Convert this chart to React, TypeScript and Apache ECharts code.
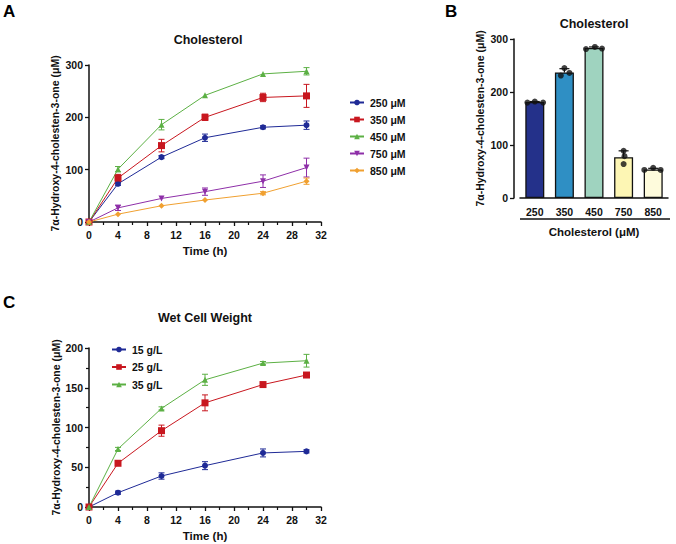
import { useEffect, useRef } from 'react'
import * as echarts from 'echarts'

const times = [0, 4, 10, 16, 24, 30]

// panel A: cholesterol concentration series (mean, sd)
const cholLabels = ['250 μM', '350 μM', '450 μM', '750 μM', '850 μM']
const chol250 = [0, 73, 124, 161, 181, 185]
const chol250Sd = [0, 3, 3, 7, 3, 8]
const chol350 = [0, 84, 146, 200, 238, 241]
const chol350Sd = [0, 7, 12, 6, 8, 22]
const chol450 = [0, 101, 186, 242, 283, 288]
const chol450Sd = [0, 5, 10, 2, 2, 7]
const chol750 = [0, 27, 45, 58, 78, 104]
const chol750Sd = [0, 5, 2, 7, 12, 18]
const chol850 = [0, 15, 31, 42, 55, 78]
const chol850Sd = [0, 2, 2, 2, 3, 6]

// panel B: 30 h yield per cholesterol level
const barCats = ['250', '350', '450', '750', '850']
const barMeans = [181, 237, 283, 77, 54]
const barSd = [1, 7, 2, 12, 2]
const barReps = [
  [180, 182, 180],
  [231, 245, 236],
  [281, 285, 282],
  [64, 89, 79],
  [53, 57, 53],
]
const repJitter = [
  [-0.25, 0, 0.28],
  [-0.12, 0, 0.17],
  [-0.27, 0.03, 0.27],
  [0, 0, 0.03],
  [-0.3, 0, 0.25],
]
const barColors = ['#24318a', '#2f8fc4', '#9fd3bf', '#fdf6b4', '#fefbdc']

// panel C: wet cell weight series
const wcwLabels = ['15 g/L', '25 g/L', '35 g/L']
const wcw15 = [0, 18, 39, 52, 68, 70]
const wcw15Sd = [0, 2, 4, 5, 5, 2]
const wcw25 = [0, 55, 96, 131, 154, 166]
const wcw25Sd = [0, 2, 7, 10, 2, 2]
const wcw35 = [0, 73, 124, 160, 181, 184]
const wcw35Sd = [0, 2, 2, 7, 2, 8]

const BLUE = '#1f2a96'
const RED = '#c8171f'
const GREEN = '#5cb044'
const PURPLE = '#8e2fa8'
const ORANGE = '#f0a030'

const FONT = '"Liberation Sans", Arial, sans-serif'
const yName = '7α-Hydroxy-4-cholesten-3-one (μM)'

function errorBars(grid: number, vals: number[], sd: number[], color: string) {
  return {
    type: 'custom',
    xAxisIndex: grid,
    yAxisIndex: grid,
    silent: true,
    z: 1,
    encode: { x: 0, y: [1, 2] },
    data: times.map((t, i) => [t, vals[i] - sd[i], vals[i] + sd[i]]),
    renderItem: (_p: any, api: any) => {
      const top = api.coord([api.value(0), api.value(2)])
      const bot = api.coord([api.value(0), api.value(1)])
      if (Math.abs(top[1] - bot[1]) < 3) return null
      const st = { stroke: color, lineWidth: 1 }
      return {
        type: 'group',
        children: [
          { type: 'line', shape: { x1: top[0], y1: top[1], x2: bot[0], y2: bot[1] }, style: st },
          { type: 'line', shape: { x1: top[0] - 3, y1: top[1], x2: top[0] + 3, y2: top[1] }, style: st },
          { type: 'line', shape: { x1: bot[0] - 3, y1: bot[1], x2: bot[0] + 3, y2: bot[1] }, style: st },
        ],
      }
    },
  }
}

function lineSeries(name: string, grid: number, vals: number[], color: string, symbol: string, size: number, rotate = 0) {
  return {
    name,
    type: 'line',
    xAxisIndex: grid,
    yAxisIndex: grid,
    data: times.map((t, i) => [t, vals[i]]),
    symbol,
    symbolSize: size,
    symbolRotate: rotate,
    z: 3,
    itemStyle: { color },
    lineStyle: { color, width: 1 },
  }
}

const axisLine = { show: true, onZero: false, lineStyle: { color: '#111', width: 1.5 } }
const labelStyle = { color: '#111', fontWeight: 'bold', fontSize: 10.5, fontFamily: FONT }

function timeAxis(grid: number) {
  return {
    type: 'value',
    gridIndex: grid,
    min: 0,
    max: 32,
    interval: 4,
    name: 'Time (h)',
    nameLocation: 'middle',
    nameGap: 23,
    nameTextStyle: { color: '#111', fontWeight: 'bold', fontSize: 11.5, fontFamily: FONT },
    axisLine,
    axisTick: { show: true, length: 4, lineStyle: { color: '#111', width: 1.3 } },
    minorTick: { show: true, splitNumber: 2, length: 3, lineStyle: { color: '#111', width: 1.2 } },
    axisLabel: { ...labelStyle, margin: 7 },
    splitLine: { show: false },
  }
}

function valueAxis(grid: number, max: number, interval: number, minor: boolean, gap: number, offset = 0) {
  return {
    type: 'value',
    gridIndex: grid,
    min: 0,
    max,
    interval,
    offset,
    name: yName,
    nameLocation: 'middle',
    nameGap: gap,
    nameTextStyle: { color: '#111', fontWeight: 'bold', fontSize: 10.5, fontFamily: FONT },
    axisLine,
    axisTick: { show: true, length: 4, lineStyle: { color: '#111', width: 1.3 } },
    minorTick: { show: minor, splitNumber: 2, length: 3, lineStyle: { color: '#111', width: 1.2 } },
    axisLabel: { ...labelStyle, margin: 6 },
    splitLine: { show: false },
  }
}

const legendText = { color: '#111', fontWeight: 'bold', fontSize: 10.5, fontFamily: FONT, padding: [0, 0, 0, 1] }

export default function App() {
  const ref = useRef<HTMLDivElement | null>(null)

  useEffect(() => {
    if (!ref.current) return undefined
    const chart = echarts.init(ref.current, undefined, { renderer: 'svg' })

    chart.setOption({
      animation: false,
      backgroundColor: '#fff',
      textStyle: { fontFamily: FONT },
      grid: [
        { left: 89, top: 65, width: 232, height: 157 },
        { left: 520, top: 39, width: 148, height: 159 },
        { left: 89, top: 348, width: 232, height: 159 },
      ],
      xAxis: [
        timeAxis(0),
        {
          type: 'category',
          gridIndex: 1,
          data: barCats,
          name: 'Cholesterol (μM)',
          nameLocation: 'middle',
          nameGap: 28,
          nameTextStyle: { color: '#111', fontWeight: 'bold', fontSize: 11.5, fontFamily: FONT },
          axisLine,
          axisTick: { show: false },
          axisLabel: { ...labelStyle, margin: 8 },
        },
        timeAxis(2),
        {
          type: 'value',
          gridIndex: 1,
          min: -0.5,
          max: 4.5,
          show: false,
        },
      ],
      yAxis: [
        valueAxis(0, 300, 100, false, 29),
        valueAxis(1, 300, 100, false, 29, 6),
        valueAxis(2, 200, 50, true, 26),
      ],
      legend: [
        {
          data: cholLabels,
          orient: 'vertical',
          left: 344,
          top: 92,
          itemWidth: 14,
          itemHeight: 7,
          itemGap: 6,
          selectedMode: false,
          textStyle: legendText,
        },
        {
          data: wcwLabels,
          orient: 'vertical',
          left: 106,
          top: 339,
          itemWidth: 14,
          itemHeight: 7,
          itemGap: 6.5,
          selectedMode: false,
          textStyle: legendText,
        },
      ],
      graphic: [
        { type: 'text', x: 3, y: 3, style: { text: 'A', fill: '#000', font: `bold 17px ${FONT}` } },
        { type: 'text', x: 445, y: 3, style: { text: 'B', fill: '#000', font: `bold 17px ${FONT}` } },
        { type: 'text', x: 3, y: 294, style: { text: 'C', fill: '#000', font: `bold 17px ${FONT}` } },
        {
          type: 'text',
          x: 208,
          y: 40,
          style: { text: 'Cholesterol', fill: '#111', font: `bold 12.5px ${FONT}`, textAlign: 'center', textVerticalAlign: 'middle' },
        },
        {
          type: 'text',
          x: 594,
          y: 24,
          style: { text: 'Cholesterol', fill: '#111', font: `bold 12.5px ${FONT}`, textAlign: 'center', textVerticalAlign: 'middle' },
        },
        {
          type: 'text',
          x: 205,
          y: 318,
          style: { text: 'Wet Cell Weight', fill: '#111', font: `bold 12.5px ${FONT}`, textAlign: 'center', textVerticalAlign: 'middle' },
        },
        { type: 'line', shape: { x1: 520, y1: 219, x2: 670, y2: 219 }, style: { stroke: '#111', lineWidth: 1.3 } },
      ],
      series: [
        errorBars(0, chol250, chol250Sd, BLUE),
        errorBars(0, chol350, chol350Sd, RED),
        errorBars(0, chol450, chol450Sd, GREEN),
        errorBars(0, chol750, chol750Sd, PURPLE),
        errorBars(0, chol850, chol850Sd, ORANGE),
        lineSeries(cholLabels[0], 0, chol250, BLUE, 'circle', 6),
        lineSeries(cholLabels[1], 0, chol350, RED, 'rect', 7),
        lineSeries(cholLabels[2], 0, chol450, GREEN, 'triangle', 6),
        lineSeries(cholLabels[3], 0, chol750, PURPLE, 'triangle', 6, 180),
        lineSeries(cholLabels[4], 0, chol850, ORANGE, 'diamond', 6),
        {
          type: 'bar',
          xAxisIndex: 1,
          yAxisIndex: 1,
          barWidth: 19,
          z: 2,
          data: barMeans.map((v, i) => ({
            value: v,
            itemStyle: { color: barColors[i], borderColor: '#111', borderWidth: 1.3 },
          })),
        },
        {
          type: 'custom',
          xAxisIndex: 3,
          yAxisIndex: 1,
          silent: true,
          z: 3,
          encode: { x: 0, y: [1, 2] },
          data: barMeans.map((v, i) => [i, v, v + barSd[i]]),
          renderItem: (_p: any, api: any) => {
            const top = api.coord([api.value(0), api.value(2)])
            const bot = api.coord([api.value(0), api.value(1)])
            const st = { stroke: '#111', lineWidth: 1.2 }
            return {
              type: 'group',
              children: [
                { type: 'line', shape: { x1: top[0], y1: top[1], x2: bot[0], y2: bot[1] }, style: st },
                { type: 'line', shape: { x1: top[0] - 5, y1: top[1], x2: top[0] + 5, y2: top[1] }, style: st },
              ],
            }
          },
        },
        {
          type: 'scatter',
          xAxisIndex: 3,
          yAxisIndex: 1,
          symbolSize: 6,
          z: 4,
          itemStyle: { color: '#111' },
          data: barReps.flatMap((reps, i) => reps.map((v, k) => [i + repJitter[i][k], v])),
        },
        errorBars(2, wcw15, wcw15Sd, BLUE),
        errorBars(2, wcw25, wcw25Sd, RED),
        errorBars(2, wcw35, wcw35Sd, GREEN),
        lineSeries(wcwLabels[0], 2, wcw15, BLUE, 'circle', 6),
        lineSeries(wcwLabels[1], 2, wcw25, RED, 'rect', 7),
        lineSeries(wcwLabels[2], 2, wcw35, GREEN, 'triangle', 6),
      ],
    })

    return () => chart.dispose()
  }, [])

  return <div ref={ref} style={{ position: 'absolute', left: 0, top: 0, width: 676, height: 544 }} />
}
